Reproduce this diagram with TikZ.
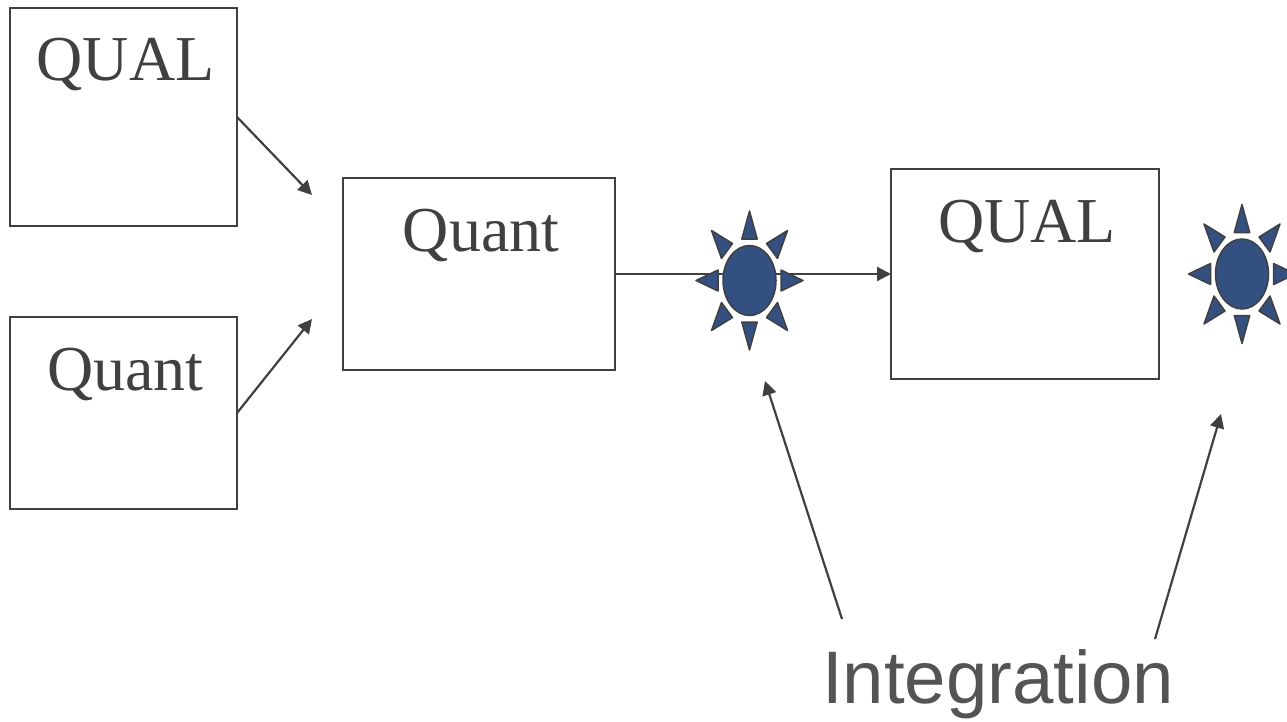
\documentclass[tikz,border=0pt]{standalone}
\usepackage{fontspec}
\setmainfont{Liberation Serif}
\setsansfont{Liberation Sans}
\usetikzlibrary{arrows.meta,positioning}
\definecolor{inkgray}{HTML}{404040}
\definecolor{sunblue}{HTML}{335080}
\tikzset{
  x=1pt, y=-1pt,
  all/.style = {inner sep=0pt, outer sep=0pt},
  basic/.style = {all, draw=inkgray, line width=1.2pt, rectangle, text=inkgray, font=\fontsize{64}{64}\selectfont, anchor=north west, execute at begin node=\hspace*{4pt}},
  qualA/.style = {basic, minimum width=227pt, text height=72pt, text depth=146pt},
  quantA/.style = {basic, minimum width=227pt, text height=73pt, text depth=119pt},
  quantB/.style = {basic, minimum width=272pt, text height=73pt, text depth=119pt},
  qualB/.style = {basic, minimum width=268pt, text height=73pt, text depth=137pt},
  link/.style = {draw=inkgray, line width=2.2pt, -{Triangle[length=14pt,width=14pt]}},
  ray/.style = {draw=inkgray, fill=sunblue, line width=1.5pt, line join=round},
  sun/.pic = {
    \foreach \sx in {-1,1} {
      \path[ray] (0,\sx*69.5) -- (-7.7,\sx*41.5) -- (7.7,\sx*41.5) -- cycle;
      \path[ray] (\sx*53.5,0) -- (\sx*31.5,-10.5) -- (\sx*31.5,10.5) -- cycle;
      \foreach \sy in {-1,1} {
        \path[ray] (\sx*38,\sy*50) -- (\sx*17,\sy*37) -- (\sx*28,\sy*22) -- cycle;
      }
    }
    \path[ray] (0,0) ellipse [x radius=26.5, y radius=35];
  }
}
\begin{document}
\begin{tikzpicture}
\useasboundingbox (0,0) rectangle (1287,721);
% the boxes
\node[qualA] (qualleft) at (10,8) {QUAL};
\node[quantA] (quantleft) at (10,317) {Quant};
\node[quantB] (quantmid) at (343,178) {Quant};
\node[qualB] (qualright) at (891,169) {QUAL};
\node[all, font=\sffamily\fontsize{74.4}{75}\selectfont, text=black!67, anchor=base] (integration) at (998,703) {Integration};

% free ends of the arrows
\coordinate (mergetop) at (312,195);
\coordinate (mergebottom) at (312,319);
\coordinate (sunonefoot) at (765,381);
\coordinate (suntwofoot) at (1221,414);
\coordinate (integrationleft) at (842,619);
\coordinate (integrationright) at (1155,639);

\draw[link] (qualleft.east) -- (mergetop);
\draw[link] (quantleft.east) -- (mergebottom);
\draw[link] (quantmid.east) -- (qualright.west);
\draw[link] (integrationleft) -- (sunonefoot);
\draw[link] (integrationright) -- (suntwofoot);

\pic at (749.5,280.5) {sun};
\pic at (1242,274) {sun};
\end{tikzpicture}
\end{document}
